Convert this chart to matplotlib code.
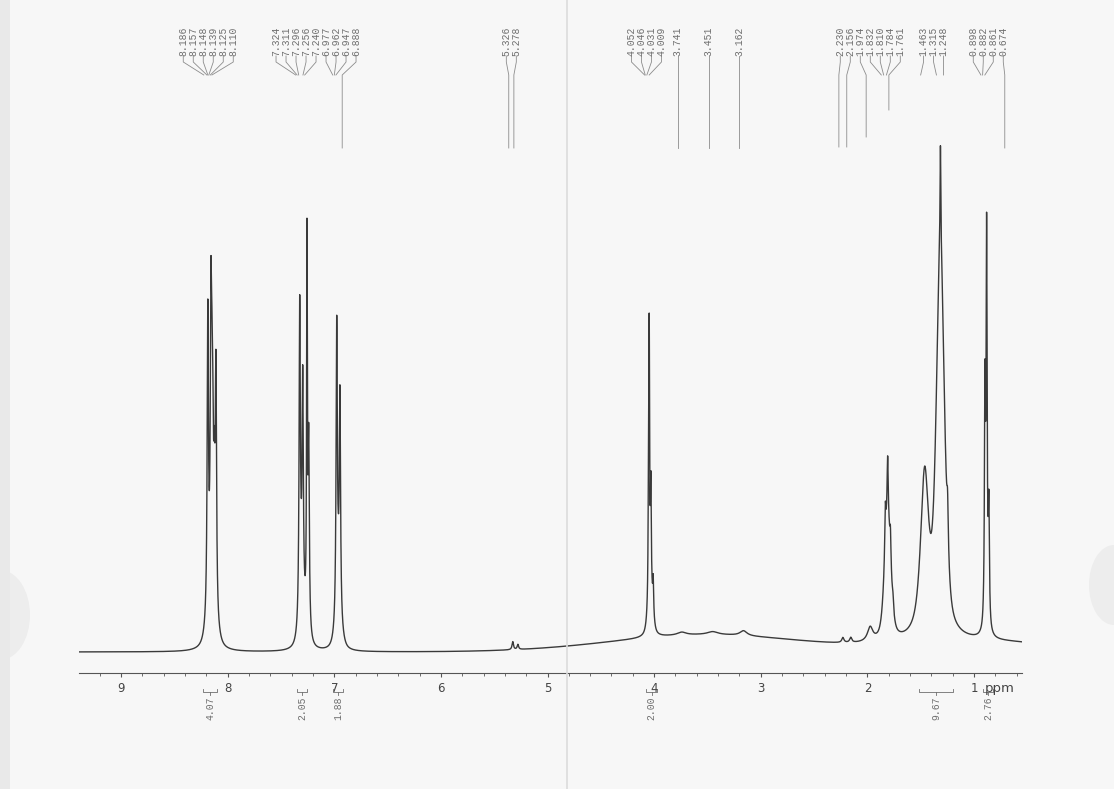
import numpy as np
import matplotlib
matplotlib.use("Agg")
import matplotlib.pyplot as plt
from matplotlib.lines import Line2D
from matplotlib.patches import Rectangle, Ellipse
from matplotlib.ticker import MultipleLocator, FormatStrFormatter

# ---------------- data ----------------
# peak-picked chemical shifts printed above the trace (ppm)
shift_labels = [8.186, 8.157, 8.148, 8.139, 8.125, 8.110,
                7.324, 7.311, 7.296, 7.256, 7.240,
                6.977, 6.962, 6.947, 6.888,
                5.326, 5.278,
                4.052, 4.046, 4.031, 4.009, 3.741, 3.451, 3.162,
                2.230, 2.156, 1.974, 1.832, 1.810, 1.784, 1.761,
                1.463, 1.315, 1.248,
                0.898, 0.882, 0.861, 0.674]

# integration regions (ppm) and integral values
integral_start = [8.23, 7.35, 7.01, 4.075, 1.52, 0.915]
integral_end = [8.10, 7.255, 6.915, 3.97, 1.195, 0.82]
integral_values = [4.07, 2.05, 1.88, 2.00, 9.67, 2.76]

# resonance lines: centre (ppm), height, half width (ppm), gaussian fraction
line_ppm = [8.186, 8.157, 8.148, 8.139, 8.125, 8.110, 8.150,
            7.324, 7.311, 7.296, 7.256, 7.240, 7.290,
            6.977, 6.962, 6.947, 6.960,
            5.326, 5.278,
            4.052, 4.046, 4.031, 4.009, 4.035,
            3.741, 3.451, 3.162,
            2.230, 2.156, 1.974,
            1.810, 1.832, 1.810, 1.784, 1.761,
            1.463, 1.315, 1.315, 1.248,
            0.898, 0.882, 0.861, 0.885,
            3.500, 0.900]
line_height = [303, 258, 140, 120, 100, 242, 40,
               321, 20, 233, 377, 191, 25,
               300, 20, 225, 25,
               8, 5,
               140, 235, 105, 35, 40,
               3, 3, 5,
               5, 5, 14,
               120, 45, 60, 30, 10,
               160, 385, 100, 45,
               200, 323, 110, 80,
               17, 10]
line_hwhm = [0.007, 0.007, 0.007, 0.007, 0.007, 0.007, 0.045,
             0.007, 0.007, 0.007, 0.004, 0.007, 0.040,
             0.007, 0.007, 0.007, 0.035,
             0.008, 0.008,
             0.004, 0.004, 0.005, 0.005, 0.025,
             0.05, 0.06, 0.04,
             0.012, 0.012, 0.03,
             0.035, 0.006, 0.006, 0.006, 0.006,
             0.045, 0.045, 0.004, 0.008,
             0.005, 0.005, 0.006, 0.015,
             1.06, 0.82]
line_gauss = [0, 0, 0, 0, 0, 0, 0.5,
              0, 0, 0, 0, 0, 0.5,
              0, 0, 0, 0.5,
              0, 0,
              0, 0, 0, 0, 0.5,
              0, 0, 0,
              0, 0, 0,
              0.5, 0, 0, 0, 0,
              0.2, 0.5, 0, 0,
              0, 0, 0, 0.5,
              1.0, 1.0]

# ---------------- layout (pixels of the 1114 x 789 page) ----------------
W_PX, H_PX = 1114, 789
AX_LEFT_PX, AX_RIGHT_PX = 79, 1022
AXIS_Y_PX = 673
PPM_LEFT, PPM_RIGHT = 9.394, 0.550
PX_PER_PPM = (AX_RIGHT_PX - AX_LEFT_PX) / (PPM_LEFT - PPM_RIGHT)
BASELINE = 21
LADDER_NUDGE_PX = -4

INK = "#3a3a3a"
LABEL_INK = "#6e6e6e"
LEADER_INK = "#8c8c8c"
PAPER = "#f7f7f7"
MONO = "Liberation Mono"

# shifts whose leader continues down towards the trace, and where it stops (px)
LEADER_END_PX = {6.888: 148, 5.326: 148, 5.278: 148, 3.741: 148, 3.451: 148,
                 3.162: 148, 2.230: 147, 2.156: 147, 1.974: 137, 1.761: 110,
                 0.674: 148}


def ydata(y_px):
    return AXIS_Y_PX - y_px


def ppm_to_px(p):
    return AX_LEFT_PX + (PPM_LEFT - p) * PX_PER_PPM


def px_to_ppm(x):
    return PPM_LEFT - (x - AX_LEFT_PX) / PX_PER_PPM


def lineshape(x, c, h, w, g):
    d = (x - c) / w
    return h * ((1 - g) / (1 + d * d) + g * np.exp(-np.log(2) * d * d))


def spread_labels(shifts, pitch=10.0, join=15.0):
    """Evenly stacked label positions (px), clusters centred on their peaks."""
    xs = sorted(ppm_to_px(s) for s in shifts)
    clusters = [[x] for x in xs]

    def span(c):
        s = np.mean(c) - (len(c) - 1) * pitch / 2
        return s, s + (len(c) - 1) * pitch

    merged = True
    while merged:
        merged = False
        for i in range(len(clusters) - 1):
            if span(clusters[i + 1])[0] - span(clusters[i])[1] < join:
                clusters[i] = clusters[i] + clusters.pop(i + 1)
                merged = True
                break
    out = []
    for c in clusters:
        s0 = span(c)[0]
        out.extend(s0 + k * pitch for k in range(len(c)))
    return out


# ---------------- figure ----------------
fig = plt.figure(figsize=(W_PX / 100, H_PX / 100), dpi=100, facecolor=PAPER)
ax = fig.add_axes([AX_LEFT_PX / W_PX, (H_PX - AXIS_Y_PX) / H_PX,
                   (AX_RIGHT_PX - AX_LEFT_PX) / W_PX, AXIS_Y_PX / H_PX])
ax.set_facecolor("none")

# paper fold, scanner edge and punch-hole shadows
fig.add_artist(Line2D([567 / W_PX, 567 / W_PX], [0, 1], color="#dcdcdc", lw=1.2))
fig.add_artist(Rectangle((0, 0), 10 / W_PX, 1, color="#e9e9e9", lw=0))
fig.add_artist(Ellipse((0, 1 - 615 / H_PX), 60 / W_PX, 90 / H_PX,
                       color="#ededed", lw=0, zorder=0))
fig.add_artist(Ellipse((1, 1 - 585 / H_PX), 50 / W_PX, 80 / H_PX,
                       color="#ededed", lw=0, zorder=0))

# trace
ppm = np.linspace(PPM_LEFT, PPM_RIGHT, 60000)
trace = np.full_like(ppm, BASELINE, dtype=float)
for c, h, w, g in zip(line_ppm, line_height, line_hwhm, line_gauss):
    trace += lineshape(ppm, c, h, w, g)
ax.plot(ppm, trace, color=INK, lw=1.0)

ax.set_xlim(PPM_LEFT, PPM_RIGHT)
ax.set_ylim(0, AXIS_Y_PX)
for side in ("left", "right", "top"):
    ax.spines[side].set_visible(False)
ax.spines["bottom"].set_color("#555555")
ax.spines["bottom"].set_linewidth(0.8)
ax.set_yticks([])
ax.xaxis.set_major_locator(MultipleLocator(1))
ax.xaxis.set_minor_locator(MultipleLocator(0.2))
ax.xaxis.set_major_formatter(FormatStrFormatter("%d"))
ax.tick_params(axis="x", which="major", length=3.2, width=0.8, color="#555555",
               labelsize=8.5, labelcolor="#444444", pad=3.5)
ax.tick_params(axis="x", which="minor", length=2.0, width=0.6, color="#555555")
ax.text(px_to_ppm(1000), ydata(692), "ppm", ha="center", va="baseline",
        fontsize=9.5, color="#444444")

# peak labels with leaders (the printed ladder sits a few pixels left)
text_px = spread_labels(shift_labels)
for s, tx in zip(shift_labels, text_px):
    xt = px_to_ppm(tx + LADDER_NUDGE_PX)
    xp = px_to_ppm(ppm_to_px(s) + LADDER_NUDGE_PX)
    ax.text(xt, ydata(56), f"{s:.3f}", rotation=90, ha="center", va="bottom",
            fontsize=7, family=MONO, color=LABEL_INK, clip_on=False)
    xs = [xt, xt, xp]
    ys = [ydata(56), ydata(62), ydata(75)]
    if s in LEADER_END_PX:
        xs.append(xp)
        ys.append(ydata(LEADER_END_PX[s]))
    ax.plot(xs, ys, color=LEADER_INK, lw=0.6, clip_on=False)

# integrals
for a, b, v in zip(integral_start, integral_end, integral_values):
    mid = 0.5 * (a + b)
    ax.plot([a, a, b, b], [ydata(689), ydata(692), ydata(692), ydata(689)],
            color=LABEL_INK, lw=0.6, clip_on=False)
    ax.plot([mid, mid], [ydata(692), ydata(695)], color=LABEL_INK, lw=0.6,
            clip_on=False)
    ax.text(mid, ydata(697), f"{v:.2f}", rotation=90, ha="center", va="top",
            fontsize=7, family=MONO, color=LABEL_INK, clip_on=False)

fig.savefig("out.png", dpi=100, facecolor=PAPER)
